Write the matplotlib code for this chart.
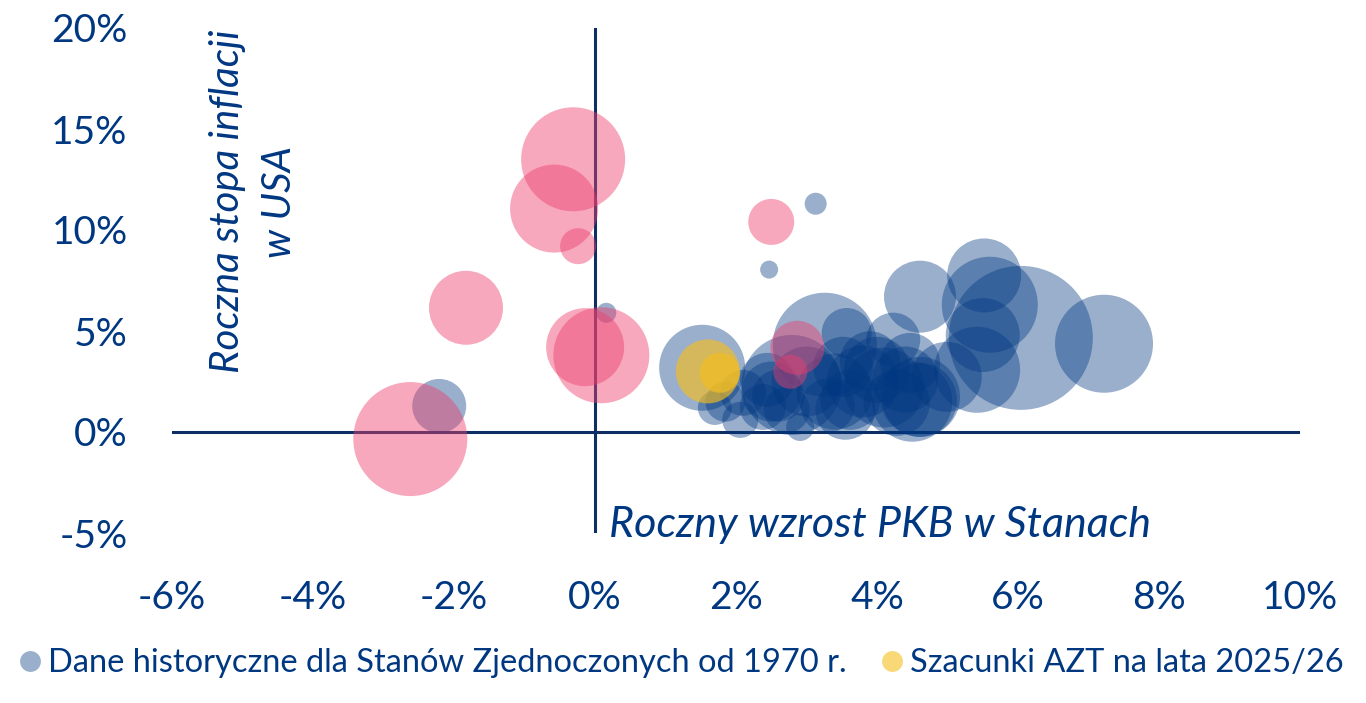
import matplotlib
matplotlib.use("Agg")
import matplotlib.pyplot as plt
from matplotlib.lines import Line2D

DPI = 100
NAVY = "#003781"
LINE = "#0d2f63"

# dane historyczne (PKB r/r %, inflacja r/r %, rozmiar babelka)
gdp_hist = [-2.21, 0.16, 3.13, 2.47, 1.52, 7.22, 6.04, 5.52, 5.60, 4.61,
            2.91, 1.70, 2.06, 2.10, 2.44, 2.38, 2.79, 2.72, 3.26, 3.57,
            4.23, 3.52, 4.00, 4.47, 3.62, 4.28, 4.61, 3.55, 5.50, 4.99,
            5.42, 4.61, 3.30, 1.85, 2.60, 3.00, 3.40, 3.80, 4.10, 4.40,
            2.50, 3.90, 4.50]
infl_hist = [1.29, 5.90, 11.30, 8.04, 3.18, 4.37, 4.66, 7.75, 6.30, 6.70,
             0.25, 1.19, 0.60, 1.94, 2.58, 1.24, 2.33, 1.10, 4.32, 4.90,
             4.57, 3.23, 3.08, 3.42, 1.59, 1.44, 1.59, 1.10, 4.80, 2.73,
             3.08, 1.74, 1.30, 1.50, 1.80, 2.50, 2.00, 2.50, 2.20, 2.60,
             2.00, 3.50, 1.50]
size_hist = [27, 10, 11, 9, 43, 49, 72, 37, 48, 36,
             14, 17, 18, 23, 27, 23, 50, 23, 52, 25,
             27, 30, 33, 30, 30, 33, 37, 30, 37, 35,
             43, 40, 27, 20, 26, 35, 38, 36, 40, 33,
             30, 30, 40]

# lata recesji / spowolnienia
gdp_rec = [-0.31, -0.58, -0.24, -1.83, -0.14, 0.09, -2.62, 2.50, 2.87, 2.77]
infl_rec = [13.5, 11.06, 9.2, 6.15, 4.2, 3.8, -0.35, 10.4, 4.17, 2.98]
size_rec = [52, 44, 18, 37, 39, 48, 57, 23, 27, 17]

# prognozy AZT 2025/26
gdp_azt = [1.60, 1.77]
infl_azt = [3.0, 2.93]
size_azt = [32, 20]

x_ticks = [-6, -4, -2, 0, 2, 4, 6, 8, 10]
y_ticks = [-5, 0, 5, 10, 15, 20]


def to_s(sizes):
    return [(2 * r * 72 / DPI) ** 2 for r in sizes]


plt.rcParams["font.family"] = ["Lato", "DejaVu Sans"]

fig = plt.figure(figsize=(13.66, 7.03), dpi=DPI)
ax = fig.add_axes([172 / 1366, 170 / 703, 1128 / 1366, 505 / 703])
ax.set_xlim(-6, 10)
ax.set_ylim(-5, 20)

ax.axhline(0, color=LINE, lw=2.2, zorder=1)
ax.axvline(0, color=LINE, lw=2.2, zorder=1)

ax.scatter(gdp_hist, infl_hist, s=to_s(size_hist), color=NAVY, alpha=0.4,
           linewidths=0, zorder=2)
ax.scatter(gdp_rec, infl_rec, s=to_s(size_rec), color="#EE3F6E", alpha=0.45,
           linewidths=0, zorder=3)
ax.scatter(gdp_azt, infl_azt, s=to_s(size_azt), color="#F5BE1E", alpha=0.65,
           linewidths=0, zorder=4)

for sp in ax.spines.values():
    sp.set_visible(False)
ax.set_xticks(x_ticks)
ax.set_xticklabels([f"{v}%" for v in x_ticks])
ax.set_yticks(y_ticks)
ax.set_yticklabels([f"{v}%" for v in y_ticks])
ax.tick_params(length=0, labelsize=28, colors=NAVY)
ax.tick_params(axis="x", pad=34)
ax.tick_params(axis="y", pad=32)

ax.text(-4.84, 11.4, "Roczna stopa inflacji\nw USA", rotation=90,
        ha="center", va="center", style="italic", fontsize=29, color=NAVY,
        multialignment="center", linespacing=1.5)
ax.text(0.2, -4.6, "Roczny wzrost PKB w Stanach", ha="left", va="center",
        style="italic", fontsize=31, color=NAVY)

handles = [
    Line2D([], [], marker="o", ls="", markersize=15, markerfacecolor=NAVY,
           markeredgewidth=0, alpha=0.4),
    Line2D([], [], marker="o", ls="", markersize=15, markerfacecolor="#F5BE1E",
           markeredgewidth=0, alpha=0.6),
]
fig.legend(handles, ["Dane historyczne dla Stanów Zjednoczonych od 1970 r.",
                     "Szacunki AZT na lata 2025/26"],
           loc="center", bbox_to_anchor=(0.497, 1 - 663 / 703), ncol=2,
           frameon=False, fontsize=23.5, labelcolor=NAVY, handletextpad=0.05,
           columnspacing=0.9, handlelength=1.0)

fig.savefig("out.png", dpi=DPI)
